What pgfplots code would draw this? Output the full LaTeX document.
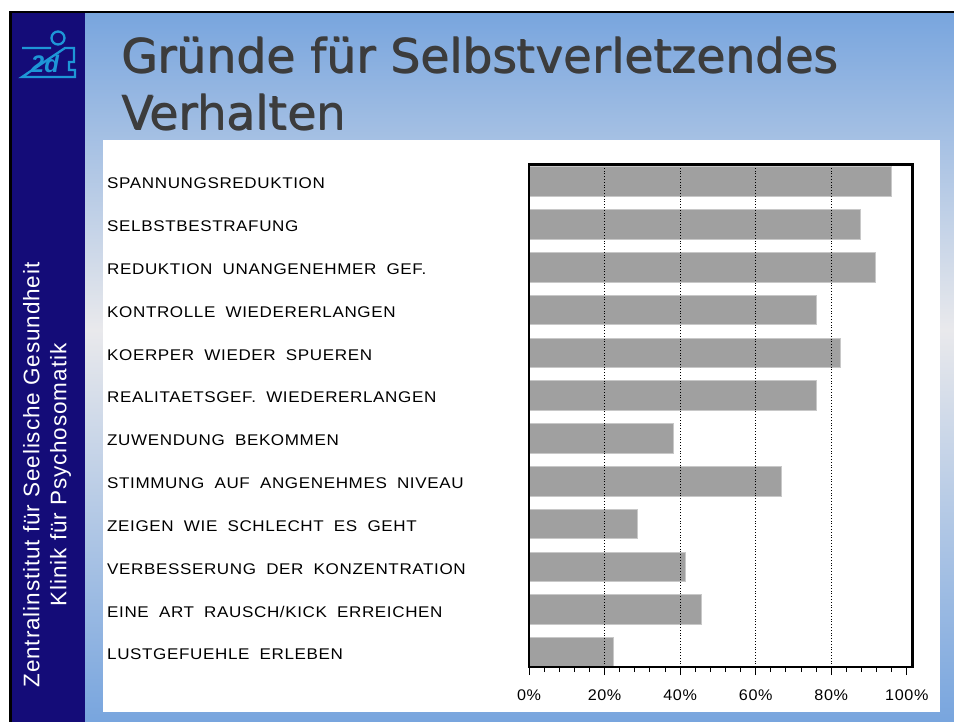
\documentclass[border=0pt]{standalone}
\usepackage{fontspec}
\setmainfont{Liberation Sans}
\newfontfamily\labelfont[FakeStretch=1.1,LetterSpace=4,WordSpace=1.9]{Liberation Sans}
\newfontfamily\ticklabelfont[FakeStretch=1.05,LetterSpace=4]{Liberation Sans}
\newfontfamily\sidefont[LetterSpace=4]{Liberation Sans}
\newfontfamily\titlefont{DejaVu Sans}
\usepackage{pgfplots}
\pgfplotsset{compat=1.18}
\definecolor{bgblue}{RGB}{120,165,222}
\definecolor{bgmid}{RGB}{233,233,236}
\definecolor{navy}{RGB}{20,12,120}
\definecolor{logocyan}{RGB}{30,150,215}
\definecolor{titlegray}{RGB}{60,60,60}
\definecolor{barfill}{RGB}{160,160,160}
\definecolor{baredge}{RGB}{200,200,200}
\begin{document}
\begin{tikzpicture}[x=1pt,y=1pt]
% page background
\fill[white] (0,0) rectangle (954,-722);
\shade[top color=bgblue, bottom color=bgmid] (12,-12) rectangle (954,-330);
\shade[top color=bgmid, bottom color=bgblue] (12,-330) rectangle (954,-722);
% borders
\fill[black] (9,-11) rectangle (954,-13);
\fill[black] (9,-11) rectangle (12,-722);
% sidebar
\fill[navy] (12,-13) rectangle (85,-722);
% logo
\draw[logocyan, line width=2.3pt] (58,-38) circle (6.5);
\draw[logocyan, line width=2.3pt] (22,-48) -- (51,-48) (65,-48) -- (74,-48) -- (74,-62) -- (69,-62) -- (69,-70) -- (75,-70) -- (75,-77) -- (22,-77) -- cycle;
\node[logocyan, font=\fontsize{24}{24}\selectfont\bfseries\itshape, anchor=base] at (45,-73) {2d};
% sidebar text
\node[white, rotate=90, align=center, font=\sidefont\fontsize{22.5}{27}\selectfont] at (47,-475) {Zentralinstitut für Seelische Gesundheit\\Klinik für Psychosomatik};
% title (double print for heavier stroke)
\foreach \dx/\dy in {0/0, 0.8/-0.6} {
\node[titlegray, anchor=base west, inner sep=0pt, font=\titlefont\fontsize{47}{57}\selectfont] at (121+\dx,-73+\dy) {Gründe für Selbstverletzendes};
\node[titlegray, anchor=base west, inner sep=0pt, font=\titlefont\fontsize{47}{57}\selectfont] at (121+\dx,-130+\dy) {Verhalten};
}
% white panel
\fill[white] (103,-140) rectangle (940,-712);
\begin{axis}[
  at={(529pt,-667pt)}, anchor=south west,
  scale only axis, width=383.5pt, height=502.5pt,
  xbar, axis on top,
  xmin=0, xmax=101.5, ymin=0.66, ymax=12.4,
  xtick={0,20,40,60,80,100},
  minor x tick num=4,
  xtick pos=left,
  tick align=outside,
  major tick length=8pt, minor tick length=5pt,
  /pgf/number format/assume math mode=true,
  xticklabel={\pgfmathprintnumber{\tick}\%},
  xticklabel style={anchor=north, inner sep=0pt, yshift=-15pt, font=\ticklabelfont\fontsize{15.4}{18}\selectfont},
  extra x ticks={20,40,60,80},
  extra x tick labels={},
  extra x tick style={grid=major, major tick length=0pt},
  major grid style={black, line width=0.8pt, dash pattern=on 0.8pt off 2pt},
  ytick={1,...,12},
  yticklabels={LUSTGEFUEHLE ERLEBEN, EINE ART RAUSCH/KICK ERREICHEN, VERBESSERUNG DER KONZENTRATION, ZEIGEN WIE SCHLECHT ES GEHT, STIMMUNG AUF ANGENEHMES NIVEAU, ZUWENDUNG BEKOMMEN, REALITAETSGEF. WIEDERERLANGEN, KOERPER WIEDER SPUEREN, KONTROLLE WIEDERERLANGEN, REDUKTION UNANGENEHMER GEF., SELBSTBESTRAFUNG, SPANNUNGSREDUKTION},
  ytick style={draw=none},
  yticklabel style={anchor=west, inner sep=0pt, xshift=-414pt, yshift=-2pt, font=\labelfont\fontsize{15.5}{18}\selectfont},
  tick label style={black},
  x tick style={black, line width=0.9pt},
  axis line style={black, line width=2.6pt},
]
\addplot[fill=barfill, draw=baredge, line width=0.8pt, bar width=29.5pt] coordinates {
(22.4,1) (45.5,2) (41.3,3) (28.6,4) (66.7,5) (38.2,6) (76.0,7) (82.5,8) (76.0,9) (91.7,10) (87.6,11) (95.9,12)};
\end{axis}
\pgfresetboundingbox
\path[use as bounding box] (0,0) rectangle (954,-722);
\end{tikzpicture}
\end{document}
